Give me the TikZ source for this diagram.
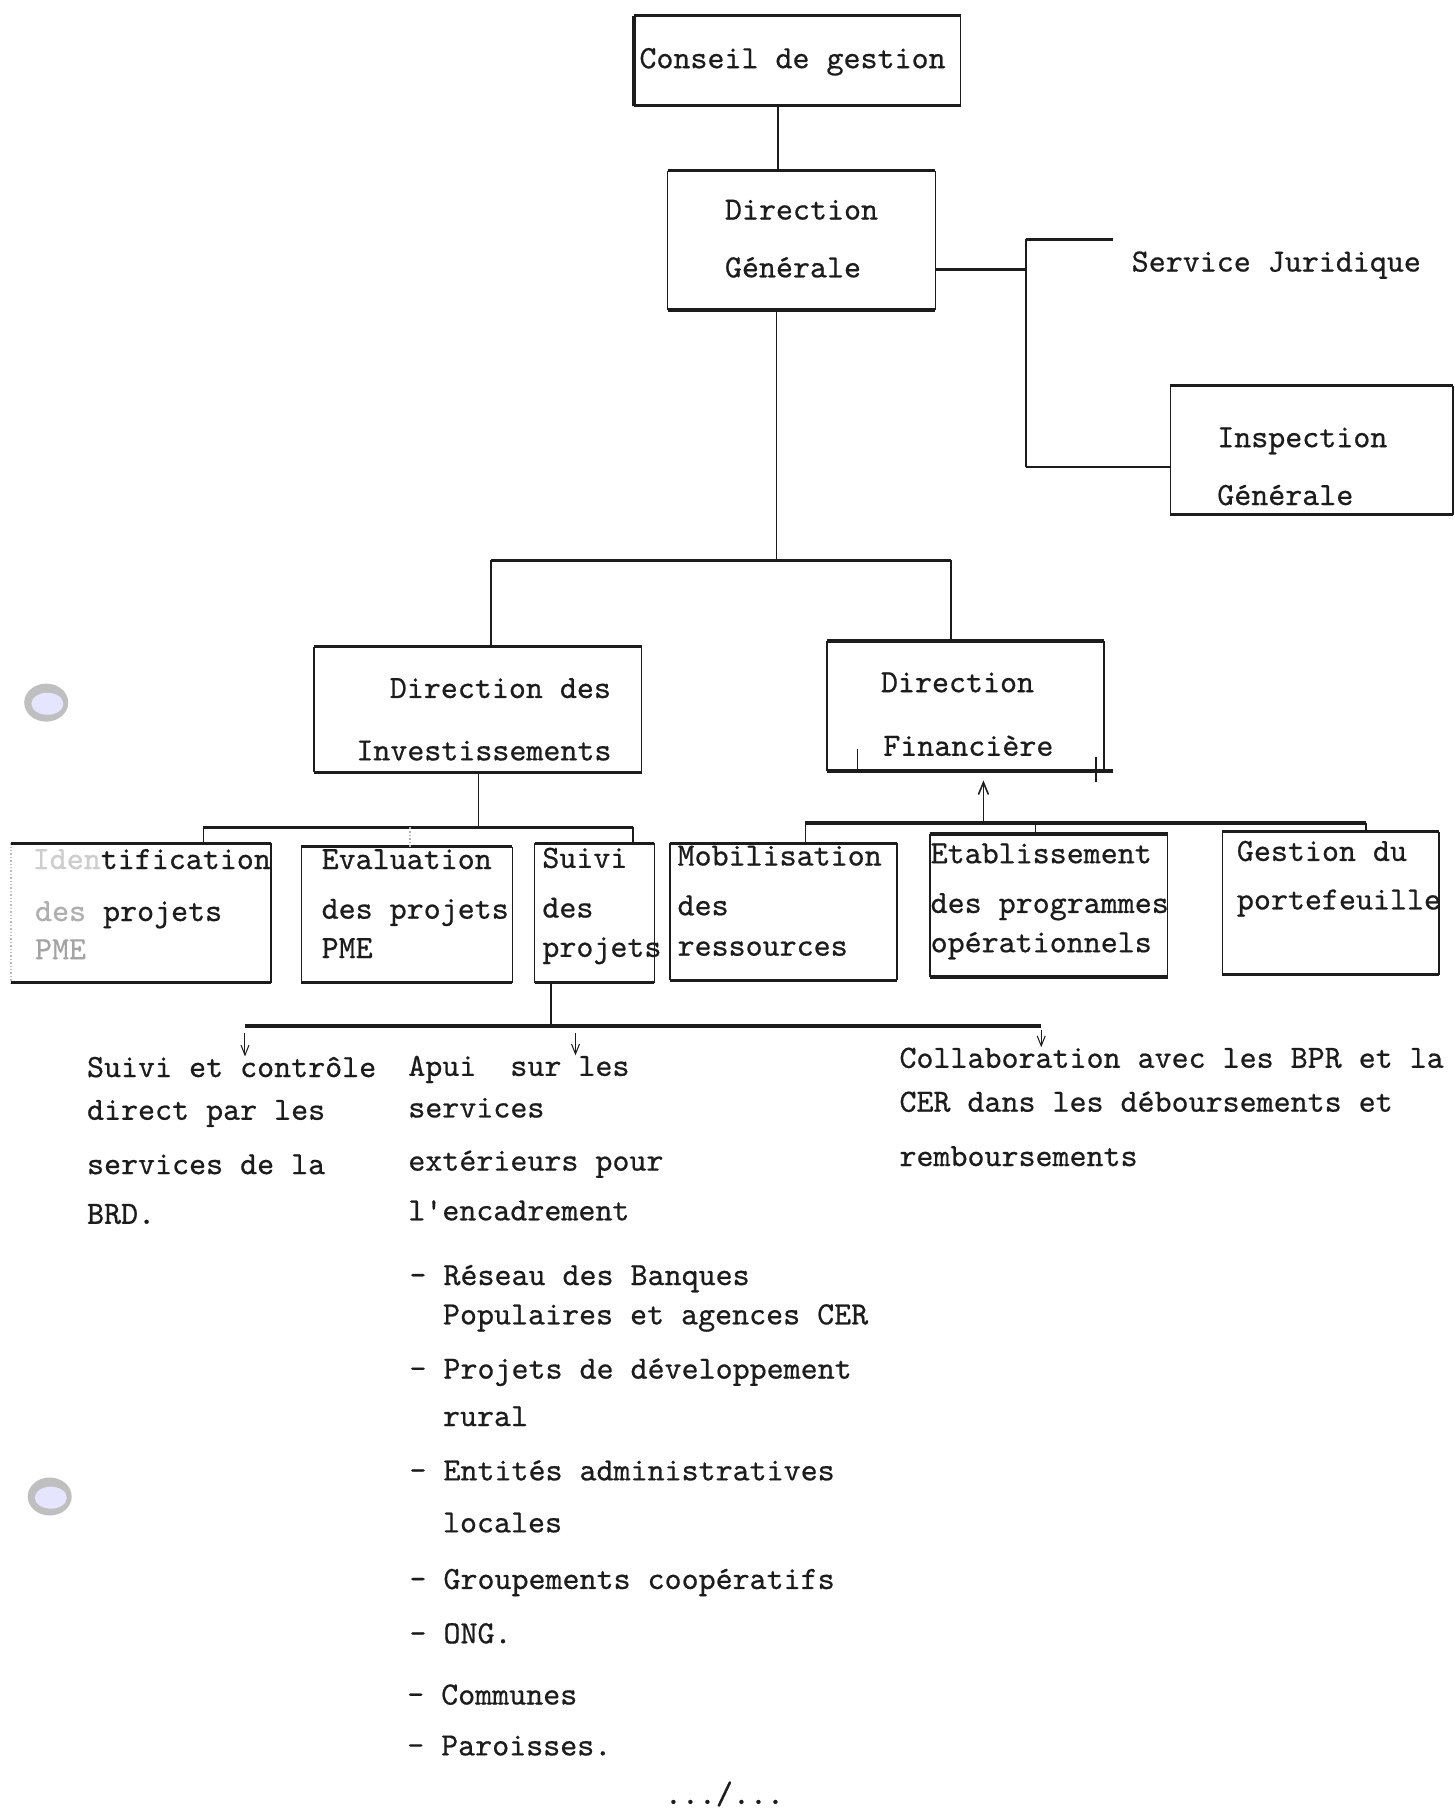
\documentclass[tikz,border=0pt]{standalone}
\usepackage{fontspec}
\newfontfamily\twfont[FakeBold=0.6]{lmmono10-regular.otf}
\usetikzlibrary{fit,calc,arrows.meta}
\definecolor{ink}{HTML}{1C1C1C}
\begin{document}
\begin{tikzpicture}[x=0.57785pt,y=-0.57785pt,
  box/.style={inner sep=0pt, draw=none},
  side/.style={draw=ink, line width=0.7pt},
  rule/.style={draw=ink, line width=1.7pt},
  conn/.style={draw=ink, line width=0.8pt},
  bar/.style={draw=ink, line width=1.7pt},
  tw/.style={font=\twfont\fontsize{16.2pt}{19pt}\selectfont, text=ink, inner sep=0pt, anchor=base west},
  arr/.style={draw=ink, line width=0.5pt, -{Straight Barb[length=5pt,width=4pt]}},
  uparr/.style={draw=ink, line width=0.8pt, -{Straight Barb[length=6pt,width=5pt]}}]
\useasboundingbox[fill=white] (0,0) rectangle (1259,1568);

% punch holes
\fill[gray!50] (40,608) ellipse [x radius=11pt, y radius=9.5pt];
\fill[blue!10!white] (41,609) ellipse [x radius=8pt, y radius=5.5pt];
\fill[gray!50] (43,1295) ellipse [x radius=11pt, y radius=9.5pt];
\fill[blue!10!white] (44,1296) ellipse [x radius=8pt, y radius=5.5pt];

% boxes
\node[box, fit={(549,14) (831,91)}] (cg) {};
\node[box, fit={(578,148) (809,268)}] (dg) {};
\node[box, fit={(1013,334) (1257,445)}] (ig) {};
\node[box, fit={(272,560) (555,668)}] (di) {};
\node[box, fit={(716,555) (955,667)}] (df) {};
\node[box, fit={(10,730) (234,850)}] (idp) {};
\node[box, fit={(261,733) (443,850)}] (evp) {};
\node[box, fit={(463,730) (566,850)}] (svp) {};
\node[box, fit={(580,730) (776,848)}] (mob) {};
\node[box, fit={(805,722) (1010,845)}] (eta) {};
\node[box, fit={(1058,720) (1245,843)}] (gpf) {};

\foreach \n in {cg,dg,ig,di,df,evp,svp,mob,eta,gpf}{
  \draw[side] (\n.north west) -- (\n.south west) (\n.north east) -- (\n.south east);
  \draw[rule] (\n.north west) -- (\n.north east) (\n.south west) -- (\n.south east);
}
\draw[rule] (cg.north west) -- (cg.south west);
\draw[side, ink!30, densely dotted] (idp.north west) -- (idp.south west);
\draw[side] (idp.north east) -- (idp.south east);
\draw[rule] (idp.north west) -- (idp.north east) (idp.south west) -- (idp.south east);

% small marks on Direction Financiere
\draw[ink, line width=0.6pt] (742,648) -- (742,667);
\draw[ink, line width=1pt] (948,655) -- (948,677);
\draw[rule] (df.south east) -- ++(8,0);

% texts in boxes
\node[tw] (t-cg) at (553,59) {Conseil de gestion};
\node[tw] (t-dg1) at (627,190) {Direction};
\node[tw] (t-dg2) at (627,240) {Générale};
\node[tw] (t-sj) at (979,235) {Service Juridique};
\node[tw] (t-ig1) at (1053,387) {Inspection};
\node[tw] (t-ig2) at (1053,437) {Générale};
\node[tw] (t-di1) at (337,604) {Direction des};
\node[tw] (t-di2) at (308,658) {Investissements};
\node[tw] (t-df1) at (762,599) {Direction};
\node[tw] (t-df2) at (764,654) {Financière};
\node[tw] (t-id1) at (28,752) {{\color{ink!22}Iden}tification};
\node[tw] (t-id2) at (30,797) {{\color{ink!35}des} projets};
\node[tw, text=ink!40] (t-id3) at (30,830) {PME};
\node[tw] (t-ev1) at (278,752) {Evaluation};
\node[tw] (t-ev2) at (278,795) {des projets};
\node[tw] (t-ev3) at (278,829) {PME};
\node[tw] (t-sv1) at (469,751) {Suivi};
\node[tw] (t-sv2) at (469,794) {des};
\node[tw] (t-sv3) at (469,828) {projets};
\node[tw] (t-mo1) at (586,749) {Mobilisation};
\node[tw] (t-mo2) at (586,792) {des};
\node[tw] (t-mo3) at (586,827) {ressources};
\node[tw] (t-et1) at (805,747) {Etablissement};
\node[tw] (t-et2) at (805,790) {des programmes};
\node[tw] (t-et3) at (805,824) {opérationnels};
\node[tw] (t-gp1) at (1070,745) {Gestion du};
\node[tw] (t-gp2) at (1070,787) {portefeuille};

% lower texts
\node[tw] (b1) at (75,932) {Suivi et contrôle};
\node[tw] (b1b) at (75,969) {direct par les};
\node[tw] (b1c) at (75,1016) {services de la};
\node[tw] (b1d) at (75,1059) {BRD.};
\node[tw] (b2) at (353,931) {Apui\ \ sur les};
\node[tw] (b2b) at (353,967) {services};
\node[tw] (b2c) at (353,1013) {extérieurs pour};
\node[tw] (b2d) at (353,1056) {l'encadrement};
\node[tw] (b3) at (778,924) {Collaboration avec les BPR et la};
\node[tw] (b3b) at (778,962) {CER dans les déboursements et};
\node[tw] (b3c) at (778,1009) {remboursements};

\node[tw] (l1) at (354,1112) {- Réseau des Banques};
\node[tw] (l1b) at (383,1146) {Populaires et agences CER};
\node[tw] (l2) at (354,1193) {- Projets de développement};
\node[tw] (l2b) at (383,1234) {rural};
\node[tw] (l3) at (354,1281) {- Entités administratives};
\node[tw] (l3b) at (383,1326) {locales};
\node[tw] (l4) at (354,1375) {- Groupements coopératifs};
\node[tw] (l5) at (354,1422) {- ONG.};
\node[tw] (l6) at (352,1475) {- Communes};
\node[tw] (l7) at (352,1519) {- Paroisses.};
\node[tw] (cont) at (575,1561) {.../...};

% connectors: top
\coordinate (k1) at (673,91);
\draw[conn] (k1 |- cg.south) -- (k1 |- dg.north);

\coordinate (jA) at (888,233);
\coordinate (jT) at (888,207);
\coordinate (jB) at (888,404);
\coordinate (sjw) at (963,207);
\draw[bar] (jA -| dg.east) -- (jA);
\draw[conn] (jT) -- (jB);
\draw[bar] (jT) -- (sjw);
\draw[conn] (jB) -- (jB -| ig.west);

\coordinate (jC) at (672,485);
\coordinate (jL) at (425,485);
\coordinate (jR) at (823,485);
\draw[conn] (jC |- dg.south) -- (jC);
\draw[bar] (jL) -- (jR);
\draw[conn] (jL) -- (jL |- di.north);
\draw[conn] (jR) -- (jR |- df.north);

% Direction des Investissements
\coordinate (jD) at (414,716);
\coordinate (jD1) at (176,716);
\coordinate (jD2) at (548,716);
\coordinate (jD3) at (355,716);
\draw[conn] (jD |- di.south) -- (jD);
\draw[bar] (jD1) -- (jD2);
\draw[conn] (jD1) -- (jD1 |- idp.north);
\draw[conn] (jD2) -- (jD2 |- svp.north);
\draw[conn, ink!35, densely dotted] (jD3) -- (jD3 |- evp.north);

% Direction Financiere
\coordinate (jE) at (851,712);
\coordinate (jE1) at (697,712);
\coordinate (jE2) at (1182,712);
\coordinate (jE3) at (896,712);
\draw[uparr] (jE) -- ($(jE |- df.south)+(0,8)$);
\draw[bar] (jE1) -- (jE2);
\draw[conn] (jE1) -- (jE1 |- mob.north);
\draw[conn] (jE2) -- (jE2 |- gpf.north);
\draw[conn] (jE3) -- (jE3 |- eta.north);

% Suivi des projets
\coordinate (jS) at (477,888);
\coordinate (jS1) at (212,888);
\coordinate (jS2) at (498,888);
\coordinate (jS3) at (901,888);
\draw[conn] (jS |- svp.south) -- (jS);
\draw[bar] (jS1) -- (jS3);
\draw[arr] ($(jS1)+(0,6)$) -- (jS1 |- b1.north);
\draw[arr] ($(jS2)+(0,6)$) -- (jS2 |- b2.north);
\draw[arr] ($(jS3)+(0,3)$) -- (jS3 |- b3.north);
\end{tikzpicture}
\end{document}
